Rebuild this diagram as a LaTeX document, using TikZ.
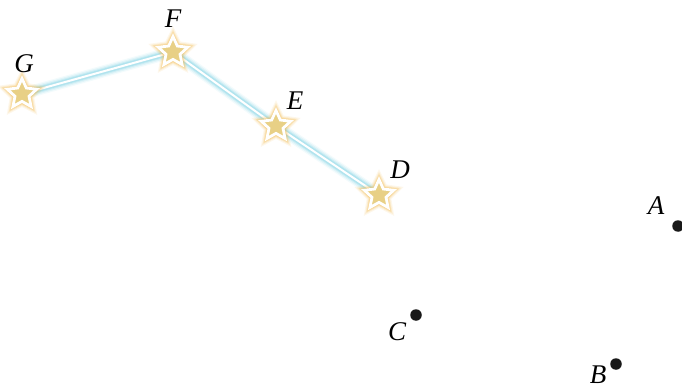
\documentclass[tikz,border=0pt]{standalone}
\usepackage{fontspec}
\setmainfont{Liberation Serif}
\usetikzlibrary{shapes.geometric}
\definecolor{glowblue}{HTML}{9FDDEA}
\definecolor{glowyellow}{HTML}{F0B440}
\definecolor{starfill}{HTML}{E8D086}
\tikzset{
  lbl/.style={font=\fontsize{27}{27}\selectfont\itshape, inner sep=0pt},
  dot/.style={circle, fill=black!90, inner sep=0pt, minimum size=11.5pt},
  starglow/.style={star, star points=5, star point ratio=2.0, inner sep=0pt, fill=glowyellow, draw=none},
  starcore/.style={star, star points=5, star point ratio=2.1, inner sep=0pt, minimum size=31pt, fill=starfill, draw=white, line width=2.8pt},
  glowline/.style={glowblue, line cap=round},
  coreline/.style={white, line width=2pt, line cap=round}
}
\begin{document}
\begin{tikzpicture}[x=1pt,y=-1pt]
\useasboundingbox (0,0) rectangle (682,390);
% star positions
\coordinate (g) at (22,94);
\coordinate (f) at (173,52);
\coordinate (e) at (276,126);
\coordinate (d) at (379,195);
% glow lines
\foreach \w/\o in {12/0.12,9.5/0.22,7/0.35,5/0.6}{
  \draw[glowline, line width=\w pt, opacity=\o] (g) -- (f) -- (e) -- (d);
}
\draw[coreline] (g) -- (f) -- (e) -- (d);
% stars
\foreach \p in {g,f,e,d}{
  \foreach \s/\o in {52/0.1,47/0.15,43/0.22,39/0.3,36/0.4}{
    \node[starglow, minimum size=\s pt, opacity=\o] at (\p) {};
  }
  \node[starcore] (s\p) at (\p) {};
}
% labels
\node[lbl] (lG) at (24,64) {G};
\node[lbl] (lF) at (173,19) {F};
\node[lbl] (lE) at (295,101) {E};
\node[lbl] (lD) at (400,170) {D};
% dots
\node[dot] (A) at (678,226) {};
\node[dot] (B) at (616,364) {};
\node[dot] (C) at (416,315) {};
\node[lbl] (lA) at (656,206) {A};
\node[lbl] (lB) at (598,375) {B};
\node[lbl] (lC) at (397,332) {C};
\end{tikzpicture}
\end{document}
